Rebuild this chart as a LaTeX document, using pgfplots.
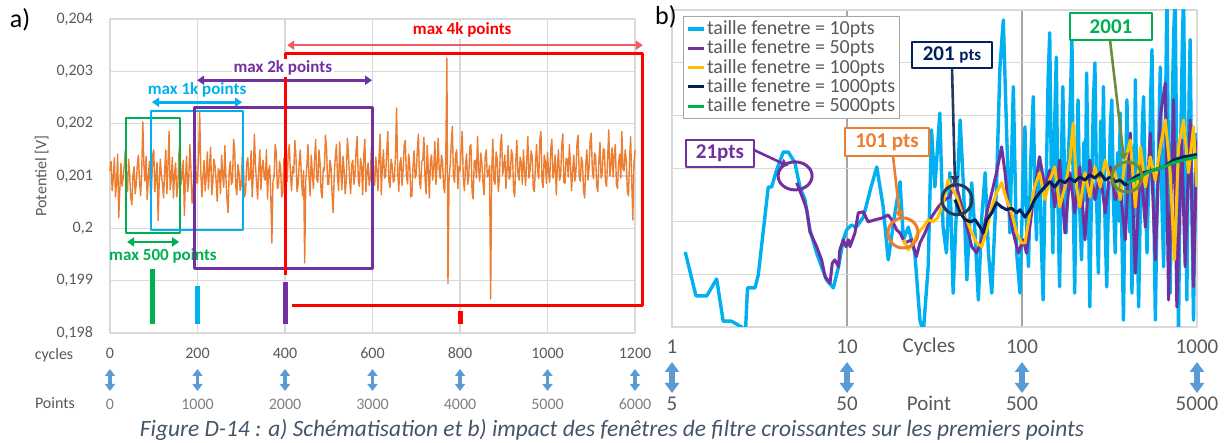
\documentclass[border=0pt]{standalone}
\usepackage{fontspec}
\setmainfont{Carlito}
\usepackage{pgfplots}
\pgfplotsset{compat=1.18}
\usetikzlibrary{arrows.meta}

\definecolor{cOrange}{HTML}{ED7D31}
\definecolor{cBlue}{HTML}{00B0F0}
\definecolor{cPurple}{HTML}{7030A0}
\definecolor{cYellow}{HTML}{FFC000}
\definecolor{cNavy}{HTML}{002060}
\definecolor{cNavyC}{HTML}{223A5E}
\definecolor{cGreen}{HTML}{00B050}
\definecolor{cRed}{HTML}{FF0000}
\definecolor{cRedLight}{HTML}{F25C5C}
\definecolor{cOlive}{HTML}{6E8B3D}
\definecolor{cArrow}{HTML}{5B9BD5}
\definecolor{cTick}{HTML}{595959}
\definecolor{cTickB}{HTML}{808080}
\definecolor{cGrid}{HTML}{D9D9D9}
\definecolor{cGridDark}{HTML}{A6A6A6}
\definecolor{cCaption}{HTML}{44546A}

\newcommand{\fs}[1]{\fontsize{#1}{#1}\selectfont}

\tikzset{
  ann/.style={line width=1.3pt, arrows={Triangle[width=4.5pt,length=3.5pt]-Triangle[width=4.5pt,length=3.5pt]}},
  ann1/.style={line width=1.3pt, arrows={-Triangle[width=4.5pt,length=3.5pt]}},
  bigarr/.style={cArrow, line width=1.8pt, arrows={Triangle[width=5pt,length=3.5pt]-Triangle[width=5pt,length=3.5pt]}},
  bigarrB/.style={cArrow, line width=2.6pt, arrows={Triangle[width=7pt,length=5pt]-Triangle[width=7pt,length=5pt]}},
  lbl/.style={font=\bfseries\fs{8.5}, inner sep=1pt},
  box/.style={draw, line width=1pt, fill=white, font=\bfseries\fs{10.5}, inner sep=1pt},
}

\begin{document}
\begin{tikzpicture}[line join=round]
\path[use as bounding box] (0,0) rectangle (612pt,221.5pt);

% ---------- a) raw signal (y in units of 10 microvolt above 0.2 V)
\begin{axis}[
  at={(55pt,55pt)}, anchor=south west,
  scale only axis, width=262.5pt, height=157pt,
  xmin=0, xmax=1200, ymin=-200, ymax=400,
  xtick={0,200,...,1200}, xticklabels={0,200,400,600,800,1000,1200},
  ytick={-200,-100,...,400},
  yticklabels={{0,198},{0,199},{0,2},{0,201},{0,202},{0,203},{0,204}},
  grid=major, grid style={cGrid, line width=0.6pt},
  axis line style={cGrid, line width=0.6pt},
  major tick length=0pt,
  tick label style={font=\fs{8}, text=cTick},
  xticklabel style={yshift=-4pt},
  yticklabel style={xshift=-5pt},
  ylabel={Potentiel [V]},
  ylabel style={at={(axis description cs:-0.13,0.5)}, anchor=center, font=\fs{8}, text=cTick},
  clip=false,
]
\addplot[cOrange, line width=0.7pt] table[header=false, row sep=\\, x expr=\coordindex*2.5, y index=0] {
110\\ 128\\ 72\\ 96\\ 135\\ 60\\ 88\\ 142\\ 20\\ 75\\ 124\\ 80\\ 95\\ 118\\ 150\\ 102\\ 70\\ 132\\ 102\\ 58\\
45\\ 100\\ 118\\ 66\\ 84\\ 122\\ 140\\ 90\\ 62\\ 110\\ 203\\ 120\\ 90\\ 138\\ 55\\ 96\\ 128\\ 64\\ 76\\ 140\\
150\\ 70\\ 98\\ 126\\ 15\\ 88\\ 132\\ 100\\ 85\\ 58\\ 112\\ 150\\ 66\\ 120\\ 185\\ 74\\ 94\\ 136\\ 58\\ 104\\
125\\ 60\\ 80\\ 142\\ 168\\ 84\\ 102\\ 130\\ 25\\ 96\\ 138\\ 70\\ 92\\ 160\\ 115\\ 48\\ 70\\ 118\\ 145\\ 88\\
86\\ 140\\ 222\\ 110\\ 60\\ 98\\ 130\\ 72\\ 100\\ 146\\ 75\\ 120\\ 155\\ 64\\ 88\\ 132\\ 120\\ 90\\ 52\\ 114\\
110\\ 66\\ 140\\ 102\\ 78\\ 158\\ 96\\ 54\\ 30\\ 112\\ 128\\ 84\\ 90\\ 170\\ 150\\ 80\\ 64\\ 122\\ 105\\ 72\\
82\\ 144\\ 118\\ 60\\ 70\\ 126\\ 135\\ 92\\ 95\\ 148\\ 60\\ 104\\ 180\\ 120\\ 88\\ 56\\ 112\\ 150\\ 74\\ 118\\
130\\ 96\\ 92\\ 150\\ 56\\ 110\\ 120\\ 64\\ -28\\ 90\\ 98\\ 160\\ 145\\ 76\\ 80\\ 128\\ 115\\ 60\\ 68\\ 134\\
125\\ 88\\ 90\\ 146\\ 160\\ 100\\ 72\\ 118\\ 105\\ 168\\ 138\\ 70\\ 84\\ 126\\ 150\\ 96\\ 62\\ 110\\ -66\\ 92\\
118\\ 160\\ 96\\ 62\\ 140\\ 104\\ 76\\ 132\\ 170\\ 94\\ 88\\ 150\\ 128\\ 70\\ 58\\ 116\\ 110\\ 178\\ 152\\ 84\\
84\\ 130\\ 120\\ 68\\ 30\\ 100\\ 136\\ 160\\ 98\\ 72\\ 165\\ 110\\ 74\\ 138\\ 112\\ 66\\ 90\\ 172\\ 145\\ 96\\
66\\ 122\\ 130\\ 84\\ 102\\ 150\\ 176\\ 92\\ 80\\ 134\\ 118\\ 64\\ 140\\ 170\\ 70\\ 108\\ 125\\ 82\\ 95\\ 156\\
160\\ 104\\ 82\\ 136\\ 110\\ 72\\ 138\\ 180\\ 64\\ 118\\ 150\\ 96\\ 100\\ 146\\ 185\\ 90\\ 78\\ 132\\ 120\\ 88\\
92\\ 140\\ 230\\ 110\\ 70\\ 124\\ 135\\ 82\\ 110\\ 160\\ 168\\ 100\\ 85\\ 142\\ 125\\ 60\\ 62\\ 118\\ 148\\ 96\\
104\\ 150\\ 180\\ 88\\ 76\\ 128\\ 130\\ 174\\ 96\\ 66\\ 158\\ 112\\ 58\\ 130\\ 140\\ 92\\ 115\\ 166\\ 84\\ 120\\
172\\ 110\\ 95\\ 140\\ 128\\ 80\\ 68\\ 136\\ 325\\ -106\\ 94\\ 120\\ 162\\ 195\\ 100\\ 88\\ 142\\ 150\\ 76\\ 118\\
110\\ 150\\ 185\\ 96\\ 72\\ 120\\ 142\\ 84\\ 98\\ 156\\ 160\\ 70\\ 56\\ 128\\ 130\\ 96\\ 176\\ 112\\ 90\\ 144\\
125\\ 88\\ 64\\ 136\\ 150\\ 98\\ 105\\ 120\\ -135\\ 110\\ 170\\ 92\\ 84\\ 146\\ 132\\ 70\\ 96\\ 158\\ 180\\ 102\\
118\\ 140\\ 76\\ 112\\ 158\\ 94\\ 100\\ 150\\ 140\\ 72\\ 60\\ 128\\ 168\\ 104\\ 92\\ 136\\ 125\\ 84\\ 150\\ 110\\
82\\ 130\\ 175\\ 96\\ 110\\ 148\\ 138\\ 76\\ 70\\ 124\\ 160\\ 108\\ 95\\ 170\\ 185\\ 90\\ 78\\ 140\\ 128\\ 86\\
145\\ 104\\ 88\\ 152\\ 170\\ 96\\ 112\\ 140\\ 64\\ 118\\ 150\\ 92\\ 100\\ 158\\ 180\\ 88\\ 86\\ 134\\ 132\\ 98\\
160\\ 120\\ 72\\ 110\\ 140\\ 90\\ 108\\ 164\\ 178\\ 100\\ 90\\ 136\\ 125\\ 70\\ 58\\ 124\\ 150\\ 92\\ 115\\ 168\\
182\\ 110\\ 95\\ 144\\ 138\\ 80\\ 70\\ 130\\ 165\\ 96\\ 105\\ 152\\ 150\\ 88\\ 80\\ 136\\ 188\\ 100\\ 120\\ 154\\
98\\ 140\\ 160\\ 84\\ 76\\ 126\\ 142\\ 96\\ 185\\ 112\\ 110\\ 150\\ 130\\ 70\\ 62\\ 132\\ 175\\ 90\\ 16\\ 124\\
150\\
};
% windows
\draw[cGreen, line width=1.3pt] (axis cs:37,-9) rectangle (axis cs:160,211);
\draw[cGreen, ann] (axis cs:39,-26) -- (axis cs:158,-26);
\node[lbl, text=cGreen] at (axis cs:121,-53) {max 500 points};
\draw[cGreen, line width=2.5pt] (axis cs:96,-78) -- (axis cs:96,-183);

\draw[cBlue, line width=1.3pt] (axis cs:94,-3) rectangle (axis cs:304,224);
\draw[cBlue, ann] (axis cs:96,241) -- (axis cs:302,241);
\node[lbl, text=cBlue] at (axis cs:199,264) {max 1k points};
\draw[cBlue, line width=2.5pt] (axis cs:199,-110) -- (axis cs:199,-183);

\draw[cPurple, line width=1.5pt] (axis cs:192,-76) rectangle (axis cs:599,230);
\draw[cPurple, ann] (axis cs:199,283) -- (axis cs:599,283);
\draw[cPurple, line width=2.5pt] (axis cs:400,-103) -- (axis cs:400,-183);

\draw[cRed, line width=1.5pt] (axis cs:402,-89) -- (axis cs:402,335) -- (axis cs:1218,335)
  -- (axis cs:1218,-147) -- (axis cs:416,-147);
\draw[cRedLight, ann] (axis cs:405,350) -- (axis cs:1218,350);
\node[lbl, text=cRed, fill=white] at (axis cs:805,379) {max 4k points};
\draw[cRed, line width=2.5pt] (axis cs:802,-158) -- (axis cs:802,-183);
\node[lbl, text=cPurple, fill=white] at (axis cs:395,306) {max 2k points};
\end{axis}

% ---------- b) moving averages, log scale in cycles
\begin{axis}[
  at={(336pt,58pt)}, anchor=south west,
  scale only axis, width=262.5pt, height=158.5pt,
  xmode=log, xmin=1, xmax=1000, ymin=0, ymax=6,
  xtick={1,10,100,1000}, xticklabels={1,10,100,1000}, xminorticks=false,
  ytick={0,1,...,6}, yticklabels={,,,,,,},
  grid=major, y grid style={cGrid, line width=0.6pt}, x grid style={cGridDark, line width=0.6pt},
  axis line style={cGrid, line width=0.6pt},
  major tick length=0pt,
  tick label style={font=\fs{10.5}, text=cTick},
  xticklabel style={yshift=-3pt},
  legend style={at={(0.021,0.981)}, anchor=north west, draw=cGridDark, fill=white,
    font=\fs{10}, text=cTick, inner sep=1.5pt, row sep=0pt, nodes={inner sep=0.6pt}},
  legend cell align=left,
  legend image code/.code={\draw[#1] (0pt,0pt) -- (8pt,0pt);},
]
\addplot[cBlue, line width=1.7pt] coordinates {
(1.19,1.42) (1.37,0.59) (1.58,0.59) (1.80,0.91) (1.96,0.11) (2.19,0.11) (2.50,0.0) (2.62,-0.2)
(2.70,0.74) (2.98,0.74) (3.11,0.98) (3.55,2.65) (3.71,2.65) (3.96,2.97) (4.32,3.31) (4.62,3.31)
(5.04,3.11) (5.38,2.65) (5.75,2.41) (6.14,1.84) (6.71,1.40) (7.16,1.14) (7.65,0.89) (8.36,0.74)
(8.94,1.14) (9.52,1.65) (9.96,1.84) (10.6,1.93) (11.3,1.89) (12.4,2.08) (13.6,2.6) (14.8,3.03)
(16.1,2.27) (17.2,1.27) (18.8,2.16) (20.1,2.75) (21.0,1.65) (22.4,1.89) (24.4,1.40) (26.1,0.13)
(27.3,-0.1) (29.1,1.14) (30.4,3.73) (31.8,2.65) (33.9,4.05) (35.4,1.89) (37.0,1.40) (38.7,2.92)
(40.4,0.64) (42.4,2.41) (44.3,3.92) (46.3,2.65) (48.4,0.89) (51.6,2.73) (53.9,1.78) (56.3,0.51)
(58.9,2.08) (61.6,2.92) (64.3,1.40) (67.2,0.64) (71.5,2.65) (74.8,4.92) (78.2,5.81) (81.7,3.67)
(85.3,1.78) (89.2,4.55) (93.2,1.40) (97.4,0.64) (101.8,3.03) (104,3.79) (106,2.0) (108.9,1.14)
(112,3.1) (116,4.36) (118,2.8) (121,1.65) (123,2.9) (126,3.22) (129,1.6) (132,0.51) (135,2.4)
(138,3.0) (141,4.7) (144,5.57) (147,2.9) (150,1.40) (153,3.6) (157,5.11) (160,2.6) (164,0.76)
(167,2.7) (171,4.55) (175,2.9) (179,1.78) (182,2.8) (186,3.6) (190,4.6) (193,5.44) (196,2.6)
(200,0.64) (204,2.8) (209,4.30) (214,2.2) (219,1.27) (222,2.4) (226,3.5) (230,2.4) (234,4.81)
(239,2.7) (244,0.38) (248,2.0) (252,3.2) (256,4.3) (261,5.00) (267,2.4) (273,1.02) (277,2.5)
(282,3.9) (287,2.6) (292,4.55) (298,2.0) (305,0.76) (310,2.0) (315,2.9) (320,3.8) (326,4.30)
(333,2.4) (341,1.40) (346,2.6) (352,3.3) (358,2.0) (364,4.05) (372,1.8) (380,0.13) (385,1.6)
(390,2.5) (394,3.4) (398,4.30) (405,2.5) (412,1.8) (418,3.2) (425,0.64) (430,2.2) (435,3.4)
(440,2.3) (444,4.68) (453,2.2) (464,0.38) (472,1.9) (480,2.6) (487,3.8) (495,4.36) (506,2.7)
(518,1.40) (526,2.4) (535,3.0) (544,4.4) (553,5.25) (565,2.6) (578,0.13) (588,1.8) (598,2.8)
(607,3.8) (617,4.92) (631,2.3) (645,1.14) (652,2.6) (660,3.9) (666,5.0) (673,6.3) (688,2.8)
(703,0.64) (714,2.6) (725,4.5) (737,5.6) (750,6.3) (767,2.8) (784,-0.1) (797,2.1) (810,3.8)
(824,5.3) (838,6.3) (856,3.2) (875,0.51) (885,2.3) (895,3.5) (904,4.7) (914,5.44) (934,2.4)
(955,0.13) (965,1.4) (975,2.4) (987,3.2) (998,3.67)
};
\addplot[cPurple, line width=1.5pt] coordinates {
(5.16,2.73) (5.63,2.41) (5.89,2.22) (6.14,1.80) (6.71,1.52) (7.16,1.27) (7.5,0.95) (8.0,0.83)
(8.24,1.21) (8.52,1.27) (8.94,1.14) (9.1,1.46) (9.52,1.65) (9.87,1.52) (10.2,1.65) (10.4,1.52)
(11.1,1.78) (11.6,2.16) (12.4,2.18) (13.2,1.99) (14.5,2.03) (15.8,2.06) (17.2,2.12) (18.0,2.03)
(19.2,1.84) (20.1,1.78) (21.4,1.59) (23.4,1.65) (24.9,1.33) (26.1,1.59) (27.9,1.78) (30.4,2.08)
(33.2,2.27) (36.3,2.41) (38.7,2.46) (41.4,2.78) (43.2,2.54) (46.3,2.16) (49.4,1.78) (51.6,1.52)
(55.1,1.40) (58.9,1.65) (62.9,2.16) (67.2,2.54) (71.5,2.92) (76.5,3.41) (80,2.92) (83.5,2.27)
(89.2,1.78) (95.3,1.40) (101.8,1.65) (106,1.40) (116,2.41) (126,3.22) (135,2.65) (144,2.97)
(154,2.27) (164,3.16) (176,1.78) (188,2.92) (200,2.16) (214,3.03) (229,1.65) (244,3.16)
(261,2.41) (280,2.92) (299,2.16) (320,3.03) (341,2.41) (364,2.65) (389,1.65) (416,3.67)
(444,1.02) (475,3.16) (507,1.89) (541,3.67) (578,1.27) (617,3.98) (659,4.62) (688,0.51)
(735,4.30) (767,0.38) (818,3.54) (855,1.14) (914,3.92) (955,0.76) (998,3.54)
};
\addplot[cYellow, line width=1.5pt] coordinates {
(21.0,1.65) (22.4,1.46) (23.9,1.59) (25.4,1.78) (27.3,1.89) (29.1,2.03) (31.0,1.99) (33.2,2.08)
(35.4,2.35) (37.8,2.78) (39.6,2.65) (42.4,2.46) (45.3,2.16) (48.4,2.03) (51.6,1.78) (55.1,1.59)
(58.9,1.52) (62.9,1.84) (67.2,2.27) (71.5,2.54) (76.5,2.73) (81.7,2.41) (87.2,2.16) (93.2,1.78)
(99.5,1.59) (104,1.59) (111,2.16) (118,2.65) (126,2.92) (135,2.41) (144,2.78) (154,3.03)
(164,2.27) (176,2.65) (188,3.16) (196,3.86) (205,2.65) (214,2.27) (229,2.92) (244,2.46)
(261,3.03) (280,2.65) (299,3.16) (320,2.78) (341,2.92) (364,2.41) (389,3.16) (416,3.54)
(444,2.27) (475,3.41) (507,2.65) (541,3.22) (578,2.78) (617,3.41) (659,3.92) (703,2.92)
(743,1.27) (784,3.41) (838,3.92) (894,2.92) (955,3.79) (998,2.65)
};
\addplot[cNavy, line width=1.5pt] coordinates {
(41.4,2.41) (44.3,2.16) (47.4,2.03) (50.6,1.99) (54.0,2.03) (57.6,1.89) (60.0,1.78) (62.9,2.03)
(67.2,2.16) (71.5,2.35) (76.5,2.27) (81.7,2.22) (87.2,2.25) (93.2,2.16) (97.4,2.22) (104,2.08)
(111,2.22) (118,2.41) (126,2.54) (135,2.65) (144,2.75) (154,2.65) (164,2.78) (176,2.73)
(188,2.82) (200,2.75) (214,2.84) (229,2.78) (244,2.88) (261,2.82) (280,2.92) (299,2.78)
(320,2.84) (341,2.75) (364,2.78) (389,2.69) (444,2.84) (495,2.92) (565,2.97) (645,3.03)
(735,3.16) (838,3.22) (955,3.25) (998,3.27)
};
\addplot[cGreen, line width=1.5pt] coordinates {
(398,2.73) (435,2.78) (475,2.84) (518,2.92) (565,2.97) (645,3.03) (735,3.11) (838,3.16) (998,3.22)
};
\legend{taille fenetre = 10pts, taille fenetre = 50pts, taille fenetre = 100pts,
  taille fenetre = 1000pts, taille fenetre = 5000pts}
\draw[cPurple, line width=1.5pt] (axis cs:5.05,2.86) ellipse [x radius=8.5pt, y radius=7pt];
\draw[cOrange, line width=1.5pt] (axis cs:20.9,1.78) ellipse [x radius=7.5pt, y radius=7.5pt];
\draw[cNavyC, line width=1.5pt] (axis cs:42.5,2.41) ellipse [x radius=7.5pt, y radius=7.5pt];
\draw[cOlive, line width=1.5pt] (axis cs:398,2.84) ellipse [x radius=7.5pt, y radius=7.5pt];
\end{axis}

% ---------- labels placed in pixel units of the page
\begin{scope}[x=0.5pt, y=-0.5pt, yshift=221.5pt]
\node[font=\fs{13}] at (20,20) {a)};
\node[font=\fs{13}] at (666,17) {b)};

\node[font=\fs{8}, text=cTick] at (54,355) {cycles};
\node[font=\fs{8}, text=cTick] at (55,403) {Points};
\foreach \px/\lab in {110/0,197.5/1000,285/2000,372.5/3000,460/4000,547.5/5000,635/6000} {
  \node[font=\fs{8}, text=cTickB] at (\px,404) {\lab};
  \draw[bigarr] (\px,369) -- (\px,391);
}
\node[font=\fs{10.5}, text=cTick] at (929,347) {Cycles};
\node[font=\fs{10.5}, text=cTick] at (929,403) {Point};
\foreach \px/\lab in {672/5,847/50,1022/500,1197/5000} {
  \node[font=\fs{10.5}, text=cTick] at (\px,404) {\lab};
  \draw[bigarrB] (\px,362) -- (\px,393);
}

\node[box, draw=cPurple, text=cPurple, minimum width=34pt, minimum height=13.5pt] at (720,153.5) {21pts};
\draw[cPurple, ann1] (754,150) -- (788,166);
\node[box, draw=cOrange, text=cOrange, minimum width=42pt, minimum height=14pt] at (887,142) {101 pts};
\draw[cOrange, ann1] (893,156) -- (900,218);
\node[box, draw=cNavy, text=cNavy, minimum width=40pt, minimum height=13pt] at (952,55) {201 {\fs{8.5}pts}};
\draw[cNavyC, ann1] (952,68) -- (955,183);
\node[box, draw=cGreen, text=cGreen, minimum width=41pt, minimum height=13.5pt] at (1111,26.5) {2001};
\draw[cOlive, ann1] (1110,40) -- (1124,160);

\node[font=\itshape\fs{11.7}, text=cCaption] at (612,430)
  {Figure D-14 : a) Schématisation et b) impact des fenêtres de filtre croissantes sur les premiers points};
\end{scope}
\end{tikzpicture}
\end{document}
